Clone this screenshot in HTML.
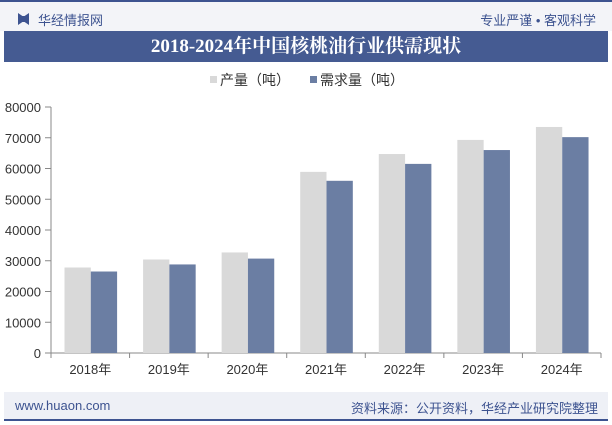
<!DOCTYPE html>
<html><head><meta charset="utf-8"><style>
body{margin:0;width:612px;height:425px;background:#fff;font-family:"Liberation Sans","Noto Sans CJK SC",sans-serif;position:relative;overflow:hidden}
.abs{position:absolute}
</style></head><body>
<div class="abs" style="left:0;top:0;width:612px;height:31px;background:#f3f4f8;border-top:2px solid #3d5390;box-sizing:border-box"></div>
<div class="abs" style="left:18px;top:13px;width:11px;height:12px;background:#3d5390;clip-path:polygon(0 0,40% 25%,60% 25%,100% 0,100% 100%,60% 75%,40% 75%,0 100%)"></div>
<div class="abs" style="left:38px;top:10px;font-size:13px;color:#3d5390">华经情报网</div>
<div class="abs" style="right:16px;top:10px;font-size:13px;color:#3d5390">专业严谨 • 客观科学</div>
<div class="abs" style="left:4px;top:31px;width:604px;height:31px;background:#455b92;color:#fff;font-family:'Liberation Serif','Noto Serif CJK SC',serif;font-weight:bold;font-size:19px;line-height:31px;text-align:center">2018-2024年中国核桃油行业供需现状</div>
<svg class="abs" style="left:0;top:0" width="612" height="425" id="chart"></svg>
<div class="abs" style="left:4px;top:392px;width:604px;height:27px;background:#eef0f6;border-bottom:2px solid #3d5390"></div>
<div class="abs" style="left:15px;top:398px;font-size:13px;color:#3d5390">www.huaon.com</div>
<div class="abs" style="right:14px;top:398px;font-size:13px;color:#3d5390">资料来源：公开资料，华经产业研究院整理</div>
<script>
const categories=["2018年","2019年","2020年","2021年","2022年","2023年","2024年"];
const production=[27800,30400,32700,58900,64700,69300,73500];
const demand=[26500,28800,30700,56000,61500,66000,70200];
const yTicks=[0,10000,20000,30000,40000,50000,60000,70000,80000];
const ns="http://www.w3.org/2000/svg";
const svg=document.getElementById('chart');
const x0=51,x1=601,y0=353,yTop=107,yMax=80000;
const step=(x1-x0)/categories.length;
const y=v=>y0-(v/yMax)*(y0-yTop);
function mk(t,a){const e=document.createElementNS(ns,t);for(const k in a)e.setAttribute(k,a[k]);svg.appendChild(e);return e;}
yTicks.forEach(v=>{
const t=mk('text',{x:41,y:y(v)+5,'text-anchor':'end','font-size':13,fill:'#333','font-family':'Liberation Sans, sans-serif'});
t.textContent=v;


mk('line',{x1:45,x2:51,y1:y(v),y2:y(v),stroke:'#888'});
});
const ax=mk('line',{x1:51,x2:51,y1:yTop,y2:y0,stroke:'#888'});


const bx=mk('line',{x1:x0,x2:x1,y1:y0,y2:y0,stroke:'#888'});


categories.forEach((c,i)=>{
const gx=x0+i*step;
mk('line',{x1:gx,x2:gx,y1:y0,y2:y0+5,stroke:'#888'});
const bw=26.3,s=gx+13.5;
const r1=mk('rect',{x:s,y:y(production[i]),width:bw,height:y0-y(production[i]),fill:'#d9d9d9'});


const r2=mk('rect',{x:s+bw,y:y(demand[i]),width:bw,height:y0-y(demand[i]),fill:'#6b7ea3'});


const t=mk('text',{x:gx+step/2,y:y0+21,'text-anchor':'middle','font-size':13,fill:'#333'});
t.textContent=c;


});
mk('line',{x1:x1,x2:x1,y1:y0,y2:y0+5,stroke:'#888'});
const l1=mk('rect',{x:210,y:76,width:7,height:7,fill:'#d9d9d9'});


const lt1=mk('text',{x:220,y:85,'font-size':14,fill:'#333'});lt1.textContent='产量（吨）';


const l2=mk('rect',{x:310,y:76,width:7,height:7,fill:'#6b7ea3'});


const lt2=mk('text',{x:320,y:85,'font-size':14,fill:'#333'});lt2.textContent='需求量（吨）';


</script>
</body></html>
